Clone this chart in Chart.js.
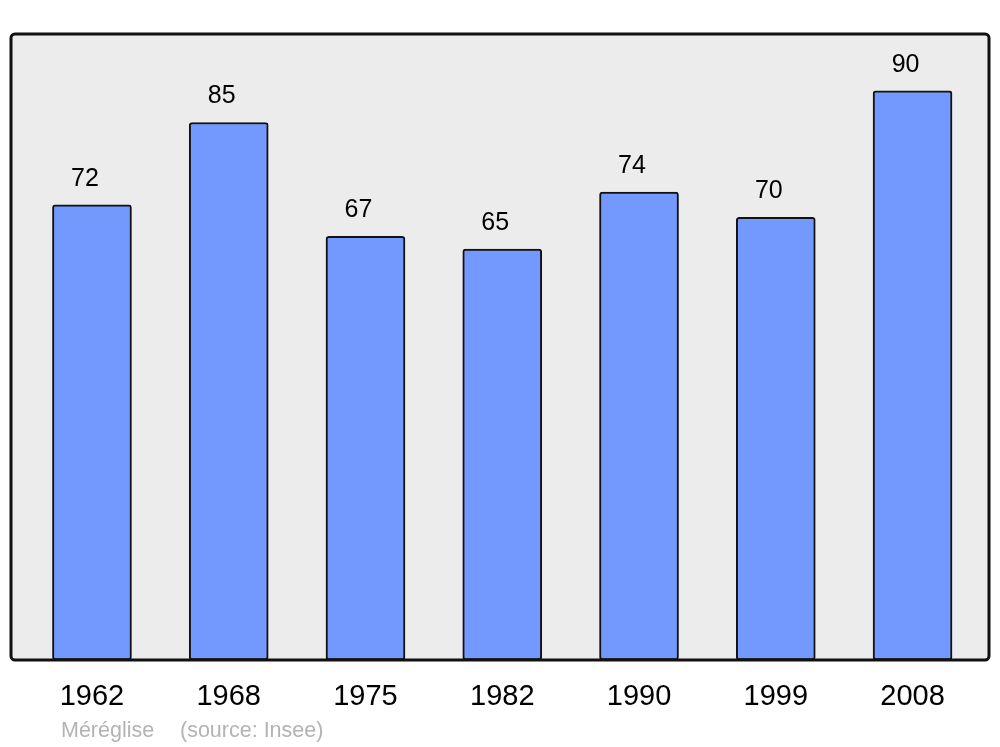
<!DOCTYPE html>
<html>
<head>
<meta charset="utf-8">
<script src="https://cdn.jsdelivr.net/npm/chart.js@4/dist/chart.umd.min.js"></script>
<style>
  html, body { margin: 0; padding: 0; background: #ffffff; }
  #wrap { width: 1000px; height: 747px; position: relative; }
</style>
</head>
<body>
<div id="wrap"><canvas id="c" width="1000" height="747"></canvas></div>
<script>
const years = ['1962', '1968', '1975', '1982', '1990', '1999', '2008'];
const population = [72, 85, 67, 65, 74, 70, 90];
const footerPlace = 'Méréglise';
const footerSource = '(source: Insee)';

const points = population.map((v, i) => ({ x: i, y: v }));

const framePlugin = {
  id: 'frame',
  beforeDraw(chart) {
    const { ctx, chartArea: a } = chart;
    ctx.save();
    ctx.beginPath();
    ctx.roundRect(a.left, a.top, a.right - a.left, a.bottom - a.top, 4);
    ctx.fillStyle = '#ececec';
    ctx.fill();
    ctx.restore();
  },
  afterDatasetsDraw(chart) {
    const { ctx, chartArea: a } = chart;
    ctx.save();
    ctx.beginPath();
    ctx.roundRect(a.left, a.top, a.right - a.left, a.bottom - a.top, 4);
    ctx.lineWidth = 3;
    ctx.strokeStyle = '#111111';
    ctx.stroke();
    // value labels
    const meta = chart.getDatasetMeta(0);
    ctx.fillStyle = '#000000';
    ctx.font = '25px "Liberation Sans", Arial, sans-serif';
    ctx.textAlign = 'center';
    ctx.textBaseline = 'middle';
    meta.data.forEach((bar, i) => {
      ctx.fillText(String(population[i]), bar.x - 7, bar.y - 26);
    });
    // footer
    ctx.fillStyle = '#b3b3b3';
    ctx.font = '21.5px "Liberation Sans", Arial, sans-serif';
    ctx.textAlign = 'left';
    ctx.textBaseline = 'alphabetic';
    ctx.fillText(footerPlace, 61, 737);
    ctx.fillText(footerSource, 180, 737);
    ctx.restore();
  }
};

new Chart(document.getElementById('c'), {
  type: 'bar',
  data: {
    datasets: [{
      data: points,
      backgroundColor: '#7399ff',
      borderColor: '#111111',
      borderWidth: 2,
      borderRadius: 3,
      borderSkipped: false,
      barThickness: 79
    }]
  },
  options: {
    responsive: false,
    animation: false,
    layout: { padding: { top: 34, left: 11, right: 11, bottom: 0 } },
    plugins: { legend: { display: false }, tooltip: { enabled: false } },
    scales: {
      x: {
        type: 'linear',
        offset: false,
        min: -0.592,
        max: 6.559,
        afterBuildTicks: (s) => { s.ticks = years.map((y, i) => ({ value: i })); },
        afterFit: (s) => { s.height = 87; },
        ticks: {
          callback: (v) => years[v] !== undefined ? years[v] : '',
          color: '#000000',
          font: { family: '"Liberation Sans", Arial, sans-serif', size: 29 },
          padding: 20,
          maxRotation: 0,
          autoSkip: false
        },
        grid: { display: false, drawTicks: false, offset: false },
        border: { display: false }
      },
      y: {
        display: false,
        min: 0,
        max: 99
      }
    }
  },
  plugins: [framePlugin]
});
</script>
</body>
</html>
